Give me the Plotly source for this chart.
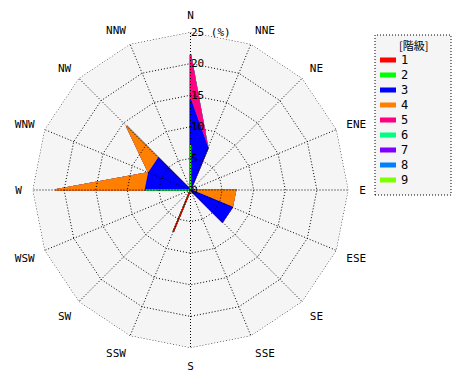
import plotly.graph_objects as go

# ---- data ----
directions = ["N", "NNE", "NE", "ENE", "E", "ESE", "SE", "SSE",
              "S", "SSW", "SW", "WSW", "W", "WNW", "NW", "NNW"]
classes = ["1", "2", "3", "4", "5", "6", "7", "8", "9"]
colors = ["#ff0000", "#00ff00", "#0000ff", "#ff8000", "#ff0080",
          "#00ff80", "#8000ff", "#0080ff", "#80ff00"]

# frequency (%) of each class per direction (N, NNE, ... NNW)
freq_1 = [0, 0, 0, 0, 0, 0, 0, 0, 0, 7.14, 0, 0, 0, 0, 0, 0]
freq_2 = [7.14, 0, 0, 0, 0, 0, 0, 0, 0, 0, 0, 0, 7.14, 0, 0, 0]
freq_3 = [7.14, 7.14, 0, 0, 0, 7.14, 7.14, 0, 0, 0, 0, 0, 0, 7.14, 7.14, 0]
freq_4 = [0, 0, 0, 0, 7.14, 0, 0, 0, 0, 0, 0, 0, 14.29, 0, 7.14, 0]
freq_5 = [7.14, 0, 0, 0, 0, 0, 0, 0, 0, 0, 0, 0, 0, 0, 0, 0]
freq_6 = [0] * 16
freq_7 = [0] * 16
freq_8 = [0] * 16
freq_9 = [0] * 16
freqs = [freq_1, freq_2, freq_3, freq_4, freq_5, freq_6, freq_7, freq_8, freq_9]

radial_ticks = [0, 5, 10, 15, 20, 25]
radial_text = ["0", "5", "10", "15", "20", "25 (%)"]
legend_title = "[階級]"

# ---- build cumulative polygons ----
cum = []
run = [0.0] * 16
for f in freqs:
    run = [a + b for a, b in zip(run, f)]
    cum.append(run)

OFF = 8                      # page body margin
W, H = 470 - OFF, 380 - OFF
cx, cy, R = 190.5 - OFF, 190.0 - OFF, 158.0
mono = "DejaVu Sans Mono"


def px(x):
    return (x - OFF) / W


def py(y):
    return 1 - (y - OFF) / H


fig = go.Figure()
# largest cumulative class at the back, class 1 on top
for i in reversed(range(len(classes))):
    fig.add_trace(go.Scatterpolar(
        r=cum[i] + [cum[i][0]], theta=directions + [directions[0]],
        mode="lines", fill="toself", fillcolor=colors[i],
        line=dict(color=colors[i], width=1.5),
        name=classes[i], showlegend=False, hoverinfo="skip"))

# dotted grid drawn above the data
dot = "1px,2px"
for t in radial_ticks[1:]:
    fig.add_trace(go.Scatterpolar(
        r=[t] * 17, theta=directions + [directions[0]], mode="lines",
        line=dict(color="black", width=1, dash=dot),
        showlegend=False, hoverinfo="skip"))
sr, st = [], []
for d in directions:
    sr += [0, radial_ticks[-1], None]
    st += [d, d, None]
fig.add_trace(go.Scatterpolar(
    r=sr, theta=st, mode="lines", connectgaps=False,
    line=dict(color="black", width=1, dash=dot),
    showlegend=False, hoverinfo="skip"))

fig.update_layout(
    width=W, height=H, margin=dict(l=0, r=0, t=0, b=0),
    paper_bgcolor="white", showlegend=False, hovermode=False,
    font=dict(family=mono, size=11, color="black"),
    polar=dict(
        domain=dict(x=[(cx - R) / W, (cx + R) / W],
                    y=[(H - cy - R) / H, (H - cy + R) / H]),
        bgcolor="#f5f5f5", gridshape="linear",
        angularaxis=dict(type="category", categoryarray=directions,
                         rotation=90, direction="clockwise",
                         showgrid=False, showline=False,
                         ticks="outside", ticklen=8,
                         tickcolor="rgba(0,0,0,0)",
                         tickfont=dict(family=mono, size=11, color="black")),
        radialaxis=dict(range=[0, 25], tickvals=radial_ticks,
                        ticktext=radial_text, angle=90, tickangle=90,
                        showgrid=False, showline=False, ticks="",
                        tickfont=dict(family=mono, size=11, color="black")),
    ),
)

# ---- legend box (custom, dotted border) ----
lx0, lx1, ly0, ly1 = 375, 451, 35, 195
fig.add_shape(type="rect", xref="paper", yref="paper",
              x0=px(lx0), x1=px(lx1), y0=py(ly1), y1=py(ly0),
              line=dict(color="black", width=1, dash=dot),
              fillcolor="#f5f5f5", layer="below")
fig.add_annotation(x=px((lx0 + lx1) / 2), y=py(45), xref="paper", yref="paper",
                   text=legend_title, showarrow=False,
                   font=dict(family="Noto Sans CJK JP", size=11, color="black"),
                   xanchor="center", yanchor="middle")
for i, c in enumerate(classes):
    yy = 60 + 15 * i
    fig.add_shape(type="line", xref="paper", yref="paper",
                  x0=px(380), x1=px(396), y0=py(yy), y1=py(yy),
                  line=dict(color=colors[i], width=5))
    fig.add_annotation(x=px(399), y=py(yy), xref="paper", yref="paper",
                       text=c, showarrow=False,
                       font=dict(family=mono, size=12, color="black"),
                       xanchor="left", yanchor="middle")

fig.write_html("out.html")
